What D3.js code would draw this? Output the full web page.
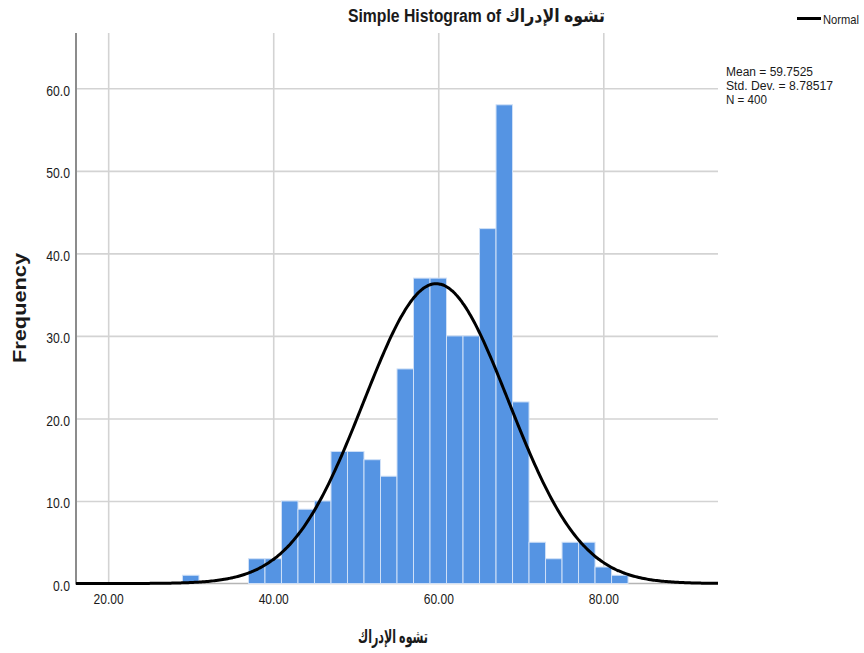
<!DOCTYPE html>
<html>
<head>
<meta charset="utf-8">
<script src="https://cdn.jsdelivr.net/npm/d3@7"></script>
<style>
  html, body { margin: 0; padding: 0; background: #ffffff; }
  svg { display: block; }
  text { font-family: "Liberation Sans", Arial, "DejaVu Sans", sans-serif; fill: #1a1a1a; }
</style>
</head>
<body>
<svg id="chart" width="864" height="653"></svg>
<script>
// ---- data ----
const binLower = [29, 31, 33, 35, 37, 39, 41, 43, 45, 47, 49, 51, 53, 55, 57, 59, 61, 63, 65, 67, 69, 71, 73, 75, 77, 79, 81];
const binUpper = [31, 33, 35, 37, 39, 41, 43, 45, 47, 49, 51, 53, 55, 57, 59, 61, 63, 65, 67, 69, 71, 73, 75, 77, 79, 81, 83];
const counts   = [1, 0, 0, 0, 3, 3, 10, 9, 10, 16, 16, 15, 13, 26, 37, 37, 30, 30, 43, 58, 22, 5, 3, 5, 5, 2, 1];
const xTicks = [20, 40, 60, 80];
const yTicks = [0, 10, 20, 30, 40, 50, 60];
const xDomain = [16.1, 93.9];
const yDomain = [0, 66.7];
const statMean = 59.7525;
const statSD = 8.78517;
const statN = 400;
const binWidth = 2;
const titleText = "Simple Histogram of تشوه الإدراك";
const xTitle = "تشوه الإدراك";
const yTitle = "Frequency";
const legendLabel = "Normal";
const statLines = ["Mean = 59.7525", "Std. Dev. = 8.78517", "N = 400"];

// ---- layout ----
const plot = { left: 76, right: 718, top: 33, bottom: 583.5 };
const svg = d3.select("#chart");

const x = d3.scaleLinear().domain(xDomain).range([plot.left, plot.right]);
const y = d3.scaleLinear().domain(yDomain).range([plot.bottom, plot.top]);

function condense(sel, f) {
  sel.each(function () {
    const len = this.getComputedTextLength();
    d3.select(this).attr("textLength", len * f).attr("lengthAdjust", "spacingAndGlyphs");
  });
}

// grid lines
const gx = svg.append("g")
  .attr("transform", `translate(0,${plot.bottom})`)
  .call(d3.axisBottom(x).tickValues(xTicks).tickSize(-(plot.bottom - plot.top)).tickFormat(""));
gx.select(".domain").remove();
gx.selectAll("line").attr("stroke", "#d3d3d3").attr("stroke-width", 1.6);

const gy = svg.append("g")
  .attr("transform", `translate(${plot.left},0)`)
  .call(d3.axisLeft(y).tickValues(yTicks.filter(d => d > 0)).tickSize(-(plot.right - plot.left)).tickFormat(""));
gy.select(".domain").remove();
gy.selectAll("line").attr("stroke", "#d3d3d3").attr("stroke-width", 1.6);

// baseline
svg.append("line")
  .attr("x1", plot.left).attr("x2", plot.right)
  .attr("y1", y(0)).attr("y2", y(0))
  .attr("stroke", "#b5b5b5").attr("stroke-width", 1.5);

// bars
svg.append("g").selectAll("rect")
  .data(binLower.map((d, i) => ({ x0: d, x1: binUpper[i], c: counts[i] })).filter(d => d.c > 0))
  .join("rect")
  .attr("x", d => x(d.x0))
  .attr("width", d => x(d.x1) - x(d.x0))
  .attr("y", d => y(d.c))
  .attr("height", d => y(0) - y(d.c))
  .attr("fill", "#5594e3")
  .attr("stroke", "#cfe0f7")
  .attr("stroke-width", 1);

// left axis line
svg.append("line")
  .attr("x1", plot.left).attr("x2", plot.left)
  .attr("y1", plot.top).attr("y2", plot.bottom + 1)
  .attr("stroke", "#8c8c8c").attr("stroke-width", 2);

// normal curve
const pdf = v => statN * binWidth * Math.exp(-0.5 * Math.pow((v - statMean) / statSD, 2)) / (statSD * Math.sqrt(2 * Math.PI));
const curvePts = d3.range(xDomain[0], xDomain[1] + 0.001, 0.2).map(v => [v, pdf(v)]);
svg.append("path")
  .datum(curvePts)
  .attr("fill", "none")
  .attr("stroke", "#000")
  .attr("stroke-width", 3)
  .attr("d", d3.line().x(d => x(d[0])).y(d => y(d[1])).curve(d3.curveBasis));

// axes labels
const ax = svg.append("g")
  .attr("transform", `translate(0,${plot.bottom})`)
  .call(d3.axisBottom(x).tickValues(xTicks).tickSize(0).tickPadding(11).tickFormat(d3.format(".2f")));
ax.select(".domain").remove();
ax.selectAll("text").attr("font-size", 14).attr("fill", "#1a1a1a")
  .style("font-family", '"Liberation Sans", Arial, sans-serif');
condense(ax.selectAll("text"), 0.86);

const ay = svg.append("g")
  .attr("transform", `translate(${plot.left},0)`)
  .call(d3.axisLeft(y).tickValues(yTicks).tickSize(0).tickPadding(6).tickFormat(d3.format(".1f")));
ay.select(".domain").remove();
ay.selectAll("text").attr("font-size", 14).attr("fill", "#1a1a1a").attr("dy", "0.48em")
  .style("font-family", '"Liberation Sans", Arial, sans-serif');
condense(ay.selectAll("text"), 0.87);

// title
const t = svg.append("text")
  .attr("x", 476.5).attr("y", 22)
  .attr("text-anchor", "middle")
  .attr("font-size", 18).attr("font-weight", "bold")
  .attr("fill", "#000")
  .text(titleText);
t.attr("textLength", 257).attr("lengthAdjust", "spacingAndGlyphs");

// x title
svg.append("text")
  .attr("x", 393).attr("y", 643)
  .attr("text-anchor", "middle")
  .attr("font-size", 19).attr("font-weight", "bold")
  .attr("fill", "#000")
  .attr("textLength", 70).attr("lengthAdjust", "spacingAndGlyphs")
  .text(xTitle);

// y title
svg.append("text")
  .attr("transform", "translate(26,308) rotate(-90)")
  .attr("text-anchor", "middle")
  .attr("font-size", 18).attr("font-weight", "bold")
  .attr("fill", "#000")
  .attr("textLength", 110).attr("lengthAdjust", "spacingAndGlyphs")
  .text(yTitle);

// legend
svg.append("line")
  .attr("x1", 797).attr("x2", 821).attr("y1", 18.5).attr("y2", 18.5)
  .attr("stroke", "#000").attr("stroke-width", 3);
svg.append("text")
  .attr("x", 823).attr("y", 24)
  .attr("font-size", 13).attr("fill", "#1a1a1a")
  .attr("textLength", 36).attr("lengthAdjust", "spacingAndGlyphs")
  .text(legendLabel);

const statLens = [87, 107, 41];
svg.append("g").selectAll("text")
  .data(statLines)
  .join("text")
  .attr("x", 726)
  .attr("y", (d, i) => 76 + i * 14)
  .attr("font-size", 12.5)
  .attr("fill", "#1a1a1a")
  .attr("textLength", (d, i) => statLens[i]).attr("lengthAdjust", "spacingAndGlyphs")
  .text(d => d);
</script>
</body>
</html>
